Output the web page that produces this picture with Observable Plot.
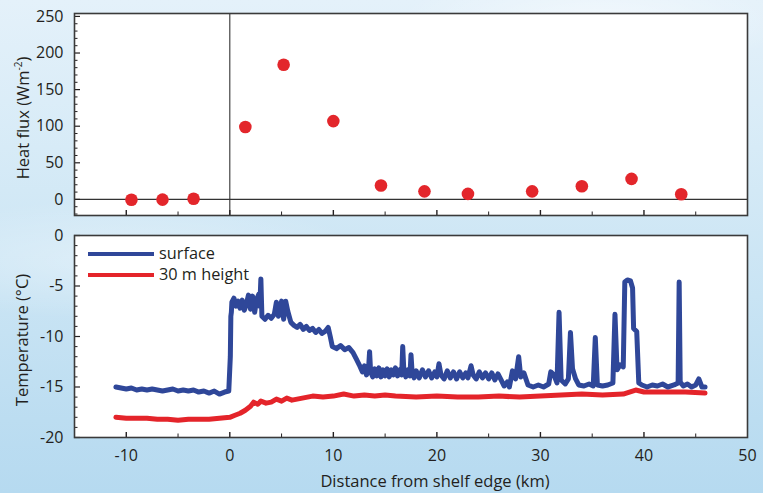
<!DOCTYPE html>
<html>
<head>
<meta charset="utf-8">
<script src="https://cdn.jsdelivr.net/npm/d3@7"></script>
<script src="https://cdn.jsdelivr.net/npm/@observablehq/plot@0.6"></script>
<style>
html, body { margin: 0; padding: 0; }
#wrap {
  position: relative; width: 763px; height: 493px; overflow: hidden;
  font-family: "Open Sans", sans-serif; color: #231f20;
  background:
    radial-gradient(ellipse 260px 60px at 120px 260px, rgba(255,255,255,0.35), rgba(255,255,255,0)),
    radial-gradient(ellipse 200px 50px at 600px 20px, rgba(255,255,255,0.5), rgba(255,255,255,0)),
    linear-gradient(180deg, #e4f1fa 0%, #d7ebf7 30%, #c9e4f4 60%, #bcddf1 85%, #b6daf0 100%);
}
#top, #bot { position: absolute; left: 0; }
#top { top: 0; }
#bot { top: 222px; }
.ytitle { position: absolute; transform: translate(-50%, -50%) rotate(-90deg); white-space: nowrap; font-size: 16.5px; }
.ytitle sup { font-size: 10px; vertical-align: 7px; line-height: 0; }
.xtitle { position: absolute; transform: translate(-50%, -50%); white-space: nowrap; font-size: 16.5px; }
.leg { position: absolute; font-size: 16.3px; white-space: nowrap; }
.legline { position: absolute; height: 4px; }
</style>
</head>
<body>
<div id="wrap">
  <div id="top"></div>
  <div id="bot"></div>
  <div class="ytitle" style="left:22px; top:118px;">Heat flux (Wm<sup>-2</sup>)</div>
  <div class="ytitle" style="left:21px; top:340px;">Temperature (°C)</div>
  <div class="xtitle" style="left:435px; top:480px;">Distance from shelf edge (km)</div>
  <div class="legline" style="left:88px; top:252px; width:66px; background:#2f4799;"></div>
  <div class="leg" style="left:159px; top:242px;">surface</div>
  <div class="legline" style="left:88px; top:273px; width:66px; background:#e4242a;"></div>
  <div class="leg" style="left:159px; top:263px;">30 m height</div>
</div>
<script>
// ---- Data ----
const fluxKm = [-9.5, -6.5, -3.5, 1.5, 5.2, 10.0, 14.6, 18.8, 23.0, 29.2, 34.0, 38.8, 43.6];
const fluxW  = [-0.5, -0.3, 0.8, 99, 184, 107, 19, 11, 7.5, 11, 18, 28, 7];

const surfKm = [-11.0,-10.5,-10.0,-9.5,-9.0,-8.5,-8.0,-7.5,-7.0,-6.5,-6.0,-5.5,-5.0,-4.5,-4.0,-3.5,-3.0,-2.5,-2.0,-1.5,-1.0,-0.5,-0.1,
  0.05,0.1,0.15,0.2,0.4,0.6,0.8,1.0,1.2,1.4,1.6,1.8,2.0,2.2,2.4,2.6,2.8,2.9,3.0,3.1,3.4,3.7,4.0,4.3,4.5,4.7,5.0,5.2,5.4,5.6,5.9,
  6.2,6.5,6.8,7.1,7.4,7.7,8.0,8.3,8.6,8.9,9.2,9.5,9.7,9.9,10.3,10.7,11.1,11.5,11.9,12.2,12.5,
  12.8,13.0,13.2,13.4,13.5,13.6,13.8,14.0,14.2,14.4,14.6,14.8,15.0,15.2,15.4,15.6,15.8,16.0,16.2,16.4,16.6,16.7,16.8,17.0,17.2,17.4,17.5,17.6,17.8,
  18.0,18.3,18.6,18.9,19.2,19.5,19.8,20.0,20.2,20.4,20.7,21.0,21.3,21.6,21.9,22.2,22.5,22.8,23.0,23.3,23.5,23.8,24.1,24.4,24.7,25.0,25.3,25.6,25.9,26.2,
  26.5,26.8,27.0,27.3,27.6,27.9,28.1,28.4,28.8,29.3,29.8,30.3,30.8,31.0,31.3,31.6,31.8,32.0,32.4,32.7,32.9,
  33.1,33.4,33.7,34.2,34.7,35.1,35.3,35.5,36.0,36.5,37.0,37.2,37.4,37.7,38.0,38.15,38.4,38.7,38.9,39.0,39.3,39.5,39.8,40.3,40.8,
  41.3,41.8,42.3,42.9,43.3,43.4,43.5,43.8,44.2,44.6,45.0,45.3,45.6,45.9];
const surfT = [-15.0,-15.1,-15.2,-15.1,-15.3,-15.2,-15.3,-15.2,-15.3,-15.4,-15.3,-15.2,-15.4,-15.3,-15.4,-15.3,-15.5,-15.4,-15.6,-15.4,-15.7,-15.5,-15.4,
  -12.0,-8.0,-7.6,-6.6,-6.2,-7.0,-6.5,-7.2,-6.4,-7.4,-6.8,-5.9,-7.3,-6.0,-7.6,-6.3,-5.8,-7.0,-4.3,-8.0,-8.3,-7.9,-8.2,-7.8,-6.6,-8.0,-6.5,-8.3,-6.5,-7.5,-8.6,
  -8.9,-9.1,-8.8,-9.3,-9.0,-9.4,-9.2,-9.6,-9.3,-9.7,-9.5,-9.1,-10.0,-11.0,-11.2,-10.9,-11.3,-11.1,-11.6,-12.2,-12.8,
  -13.5,-12.9,-13.8,-13.2,-11.5,-13.5,-14.0,-13.2,-13.9,-13.1,-14.0,-13.3,-13.9,-13.2,-14.0,-13.3,-13.8,-13.1,-13.9,-13.3,-13.8,-11.0,-13.2,-14.0,-13.3,-13.9,-11.8,-13.4,-14.1,
  -13.4,-14.1,-13.3,-14.0,-13.4,-14.1,-13.5,-14.0,-12.7,-13.8,-14.2,-13.4,-14.1,-13.5,-14.2,-13.5,-14.1,-13.6,-14.1,-12.9,-13.8,-14.2,-13.5,-14.1,-13.6,-14.2,-13.6,-14.3,-13.7,-14.3,
  -14.9,-14.5,-15.0,-13.4,-14.2,-12.0,-14.0,-13.6,-14.8,-15.0,-14.8,-15.0,-14.7,-13.5,-13.8,-14.6,-7.6,-14.3,-14.7,-14.2,-9.6,
  -13.2,-14.2,-14.8,-14.9,-14.7,-14.9,-10.1,-14.8,-14.9,-14.8,-14.6,-7.8,-13.3,-12.8,-13.0,-4.6,-4.4,-4.5,-5.2,-9.2,-9.5,-14.6,-14.8,-15.0,-14.8,
  -14.9,-14.7,-15.0,-14.8,-14.6,-4.6,-14.5,-14.9,-14.7,-15.0,-14.8,-14.2,-15.0,-15.0];

const airKm = [-11.0,-10.0,-9.0,-8.0,-7.0,-6.0,-5.0,-4.0,-3.0,-2.0,-1.0,0.0,0.5,1.0,1.5,2.0,2.3,2.7,3.0,3.5,4.0,4.5,5.0,5.5,6.0,7.0,8.0,9.0,
  10.0,11.0,12.0,13.0,14.0,15.0,16.0,18.0,20.0,22.0,24.0,26.0,28.0,30.0,32.0,34.0,36.0,38.0,39.2,40.0,42.0,44.0,45.9];
const airT = [-18.0,-18.1,-18.1,-18.1,-18.2,-18.2,-18.3,-18.2,-18.2,-18.2,-18.1,-18.0,-17.8,-17.6,-17.3,-16.9,-16.5,-16.7,-16.4,-16.6,-16.5,-16.2,-16.4,-16.1,-16.3,-16.1,-15.9,-16.0,
  -15.9,-15.7,-15.9,-15.8,-15.9,-15.8,-15.9,-16.0,-15.9,-16.0,-16.0,-15.9,-16.0,-15.9,-15.8,-15.7,-15.8,-15.7,-15.3,-15.5,-15.5,-15.5,-15.6];

const xDomain = [-15, 50];
const xMajor = [-10, 0, 10, 20, 30, 40];
const xMinor = [-5, 5, 15, 25, 35, 45];
const xLabels = [-10, 0, 10, 20, 30, 40, 50];
const fluxDomain = [-22, 254];
const fluxMajor = [0, 50, 100, 150, 200, 250];
const fluxMinor = [-20, -10, 10, 20, 30, 40, 60, 70, 80, 90, 110, 120, 130, 140, 160, 170, 180, 190, 210, 220, 230, 240];
const tempDomain = [-20, 0];
const tempMajor = [-20, -15, -10, -5, 0];
const tempMinor = [-19,-18,-17,-16,-14,-13,-12,-11,-9,-8,-7,-6,-4,-3,-2,-1];

// ---- Tables built from arrays ----
const flux = fluxKm.map((k, i) => ({km: k, w: fluxW[i]}));
const surf = surfKm.map((k, i) => ({km: k, t: surfT[i]}));
const air = airKm.map((k, i) => ({km: k, t: airT[i]}));

const W = 763, ML = 74, MR = 16;
const PW = W - ML - MR;
const PH = 202;
const ink = "#231f20";
const frameInk = "#3a3a3a";
const styleObj = {background: "transparent", fontFamily: "'Open Sans', sans-serif", fontSize: "16px", color: ink, overflow: "visible"};

const topPlot = Plot.plot({
  width: W, height: 220, marginLeft: ML, marginRight: MR, marginTop: 13, marginBottom: 5,
  style: styleObj,
  x: {domain: xDomain, axis: null},
  y: {domain: fluxDomain},
  marks: [
    Plot.frame({fill: "white", stroke: null}),
    Plot.ruleY([0], {stroke: "#333", strokeWidth: 1.1}),
    Plot.ruleX([0], {stroke: "#333", strokeWidth: 1.1}),
    Plot.tickY(fluxMajor, {y: d => d, insetRight: PW - 6, stroke: ink, strokeWidth: 1.2}),
    Plot.tickY(fluxMinor, {y: d => d, insetRight: PW - 3.5, stroke: ink, strokeWidth: 1}),
    Plot.tickX(xMajor, {x: d => d, insetTop: PH - 5, stroke: ink, strokeWidth: 1.4}),
    Plot.tickX(xMinor, {x: d => d, insetTop: PH - 3.5, stroke: ink, strokeWidth: 1}),
    Plot.axisY(fluxMajor, {tickSize: 0, tickPadding: 11, tickFormat: d => String(d), label: null, fontSize: 16, fill: ink}),
    Plot.dot(flux, {x: "km", y: "w", r: 6.3, fill: "#e3262b", stroke: null}),
    Plot.frame({stroke: frameInk, strokeWidth: 1.6})
  ]
});
document.getElementById("top").append(topPlot);

const botPlot = Plot.plot({
  width: W, height: 271, marginLeft: ML, marginRight: MR, marginTop: 13, marginBottom: 56,
  style: styleObj,
  x: {domain: xDomain},
  y: {domain: tempDomain},
  marks: [
    Plot.frame({fill: "white", stroke: null}),
    Plot.tickY(tempMajor, {y: d => d, insetRight: PW - 6, stroke: ink, strokeWidth: 1.2}),
    Plot.tickY(tempMinor, {y: d => d, insetRight: PW - 3.5, stroke: ink, strokeWidth: 1}),
    Plot.tickX(xMajor, {x: d => d, insetTop: PH - 5, stroke: ink, strokeWidth: 1.4}),
    Plot.tickX(xMinor, {x: d => d, insetTop: PH - 3.5, stroke: ink, strokeWidth: 1}),
    Plot.axisY(tempMajor, {tickSize: 0, tickPadding: 11, tickFormat: d => String(d), label: null, fontSize: 16, fill: ink}),
    Plot.axisX(xLabels, {tickSize: 0, tickPadding: 12, tickFormat: d => String(d), label: null, fontSize: 16, fill: ink}),
    Plot.line(air, {x: "km", y: "t", stroke: "#e4242a", strokeWidth: 5, strokeLinejoin: "round", strokeLinecap: "round"}),
    Plot.line(surf, {x: "km", y: "t", stroke: "#2f4799", strokeWidth: 5, strokeLinejoin: "round", strokeLinecap: "round"}),
    Plot.frame({stroke: frameInk, strokeWidth: 1.6})
  ]
});
document.getElementById("bot").append(botPlot);
</script>
</body>
</html>
